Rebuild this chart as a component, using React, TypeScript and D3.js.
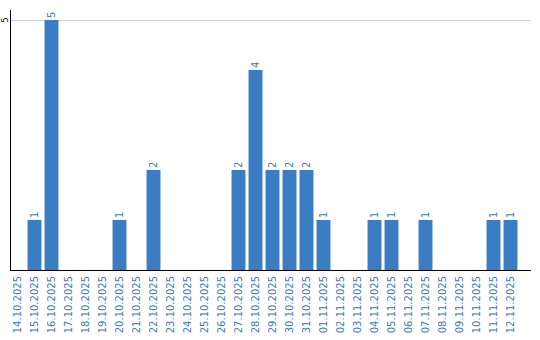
import React from "react";
import * as d3 from "d3";

const dates = [
  "14.10.2025", "15.10.2025", "16.10.2025", "17.10.2025", "18.10.2025",
  "19.10.2025", "20.10.2025", "21.10.2025", "22.10.2025", "23.10.2025",
  "24.10.2025", "25.10.2025", "26.10.2025", "27.10.2025", "28.10.2025",
  "29.10.2025", "30.10.2025", "31.10.2025", "01.11.2025", "02.11.2025",
  "03.11.2025", "04.11.2025", "05.11.2025", "06.11.2025", "07.11.2025",
  "08.11.2025", "09.11.2025", "10.11.2025", "11.11.2025", "12.11.2025",
];
const counts = [0, 1, 5, 0, 0, 0, 1, 0, 2, 0, 0, 0, 0, 2, 4, 2, 2, 2, 1, 0, 0, 1, 1, 0, 1, 0, 0, 0, 1, 1];
const yTicks = [5];

const W = 540, H = 340;
const BAR = "#3b7dc3";
const TEXT = "#3a7bc1";
const FONT = "DejaVu Sans, Verdana, sans-serif";

export default function App() {
  const x = d3.scaleBand<string>().domain(dates).range([9, 519]).paddingInner(0.18).paddingOuter(0.09);
  const y = d3.scaleLinear().domain([0, 5.2]).range([270, 10]);
  const axisLeft = 10;
  const axisRight = 531;
  return (
    <svg width={W} height={H} style={{ position: "absolute", left: 0, top: 0 }} fontFamily={FONT}>
      {yTicks.map((t) => (
        <g key={t}>
          <line x1={axisLeft} x2={axisRight} y1={Math.round(y(t)) + 0.5} y2={Math.round(y(t)) + 0.5} stroke="#cccccc" />
          <text transform={`translate(7.5,${y(t)}) rotate(-90)`} textAnchor="middle" fontSize={8} fill="#000">{t}</text>
        </g>
      ))}
      {dates.map((d, i) => {
        const v = counts[i];
        const bx = x(d)!;
        const cx = bx + x.bandwidth() / 2;
        return (
          <g key={d}>
            {v > 0 && (
              <rect x={bx} y={y(v)} width={x.bandwidth()} height={y(0) - y(v)} fill={BAR} />
            )}
            {v > 0 && (
              <text transform={`translate(${cx},${y(v) - 2}) rotate(-90)`} dy="0.35em" fontSize={10} fill={TEXT}>{v}</text>
            )}
            <text transform={`translate(${cx},${276}) rotate(-90)`} dy="0.35em" textAnchor="end" fontSize={10} fill={TEXT}>{d}</text>
          </g>
        );
      })}
      <line x1={axisLeft + 0.5} x2={axisLeft + 0.5} y1={10} y2={270} stroke="#000" />
      <line x1={axisLeft} x2={axisRight} y1={270.5} y2={270.5} stroke="#000" />
    </svg>
  );
}
